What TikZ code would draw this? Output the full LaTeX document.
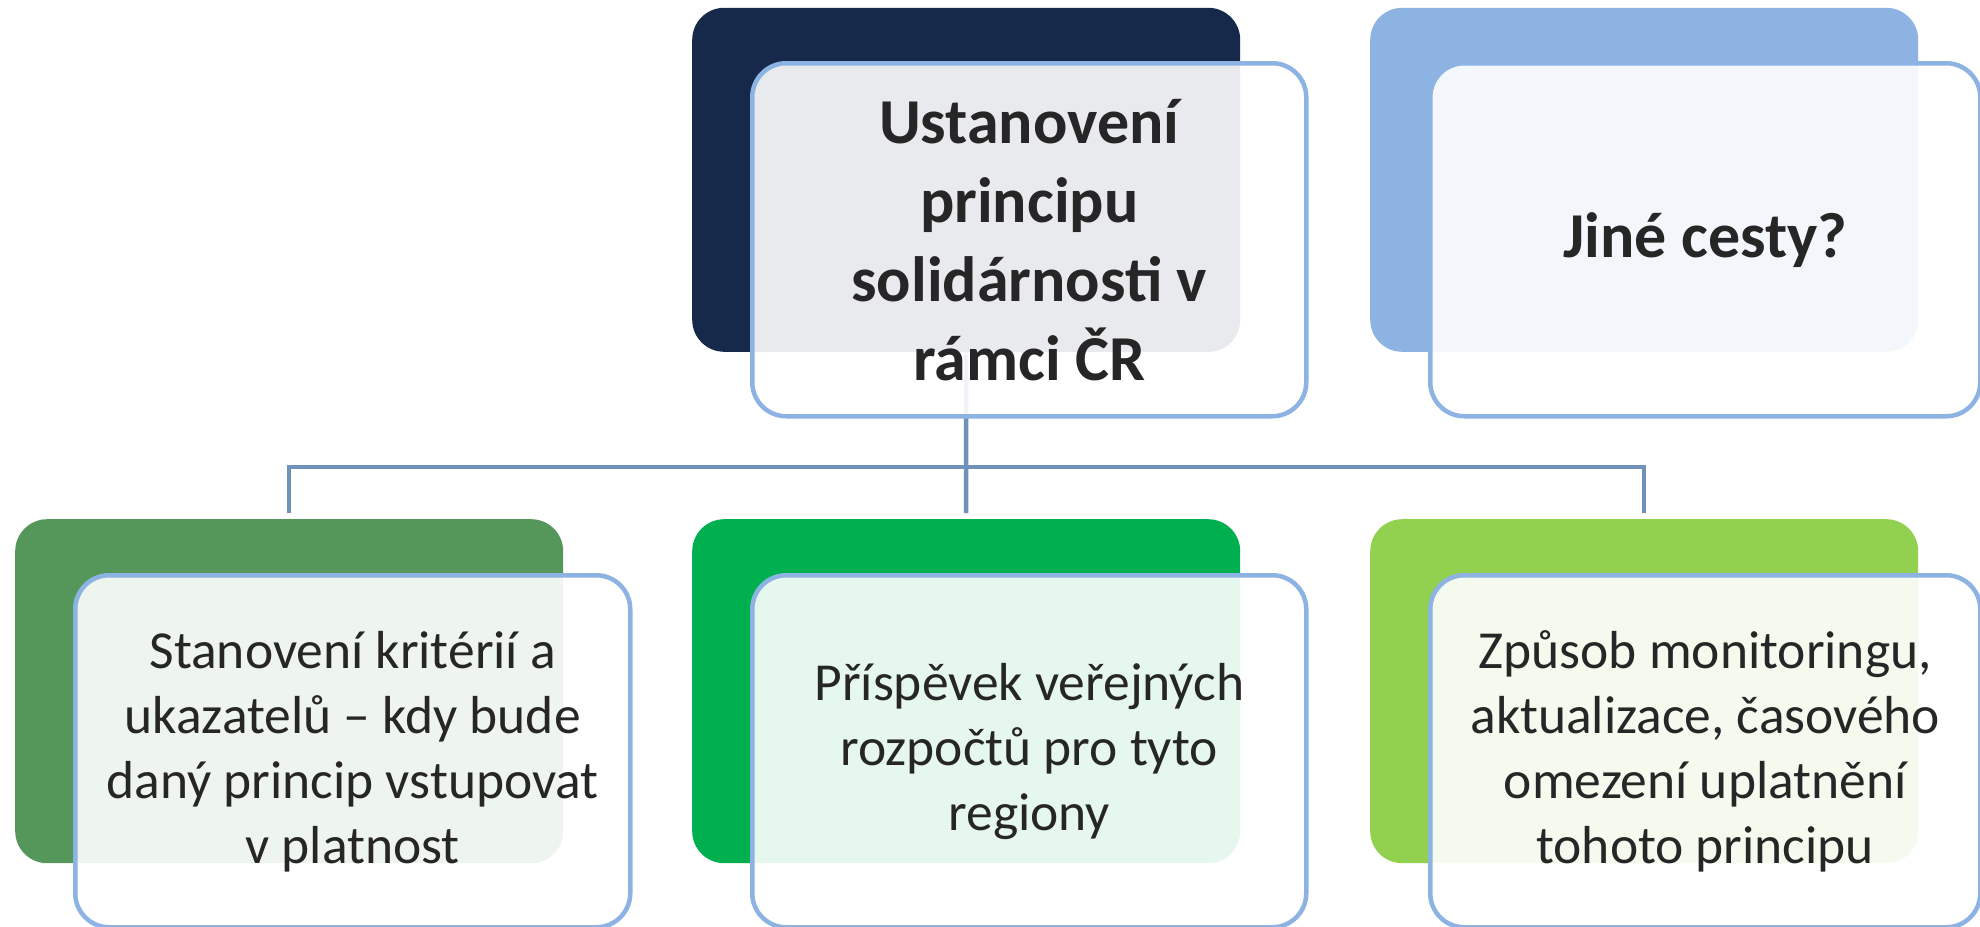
\documentclass[tikz,border=0pt]{standalone}
\usepackage{fontspec}
\setmainfont{Carlito}
\definecolor{navy}{HTML}{16294A}
\definecolor{skyb}{HTML}{8DB3E2}
\definecolor{frame}{HTML}{8DB3E2}
\definecolor{greena}{HTML}{55975A}
\definecolor{greenb}{HTML}{00B050}
\definecolor{greenc}{HTML}{92D050}
\definecolor{connc}{HTML}{7091BA}
\definecolor{txt}{HTML}{262626}
\begin{document}
\begin{tikzpicture}[x=1pt,y=-1pt,
  backbox/.style={rectangle, rounded corners=32pt, inner sep=0pt,
    minimum width=548pt, minimum height=344pt, anchor=north west},
  frontbox/.style={rectangle, rounded corners=34pt, draw=frame, line width=4.5pt,
    fill=white, fill opacity=0.9, text opacity=1, inner sep=0pt,
    minimum width=554pt, minimum height=353pt, anchor=north west,
    align=center, text=txt},
  conn/.style={draw=connc, line width=4.5pt},
  headtext/.style={font=\fontsize{64}{79}\selectfont\bfseries},
  subtext/.style={font=\fontsize{53.5}{65}\selectfont}]
\useasboundingbox (0,0) rectangle (1980,926);
\fill[white] (0,0) rectangle (1980,926);

% back boxes
\node[backbox, fill=navy]   (tcb) at (692,7.6) {};
\node[backbox, fill=skyb]   (trb) at (1370,7.6) {};
\node[backbox, fill=greena] (blb) at (15,519) {};
\node[backbox, fill=greenb] (bcb) at (692,519) {};
\node[backbox, fill=greenc] (brb) at (1370,519) {};

% connectors
\coordinate (hub) at (966,467);
\draw[conn] (tcb.south) -- (hub);
\draw[conn] (hub) -| ([yshift=6pt]blb.north);
\draw[conn] (hub) -- ([yshift=6pt]bcb.north);
\draw[conn] (hub) -| ([yshift=6pt]brb.north);

% front boxes
\node[frontbox, headtext] (tcf) at (750,61)
  {Ustanovení\\principu\\solidárnosti v\\rámci ČR};
\node[frontbox, headtext, minimum width=550pt] (trf) at (1428,61)
  {Jiné cesty?};
\node[frontbox, subtext, minimum width=555pt, minimum height=352pt] (blf) at (73,573)
  {Stanovení kritérií a\\ukazatelů – kdy bude\\daný princip vstupovat\\v platnost};
\node[frontbox, subtext, minimum height=352pt] (bcf) at (750,573)
  {Příspěvek veřejných\\rozpočtů pro tyto\\regiony};
\node[frontbox, subtext, minimum width=550pt, minimum height=352pt] (brf) at (1428,573)
  {Způsob monitoringu,\\aktualizace, časového\\omezení uplatnění\\tohoto principu};
\end{tikzpicture}
\end{document}
